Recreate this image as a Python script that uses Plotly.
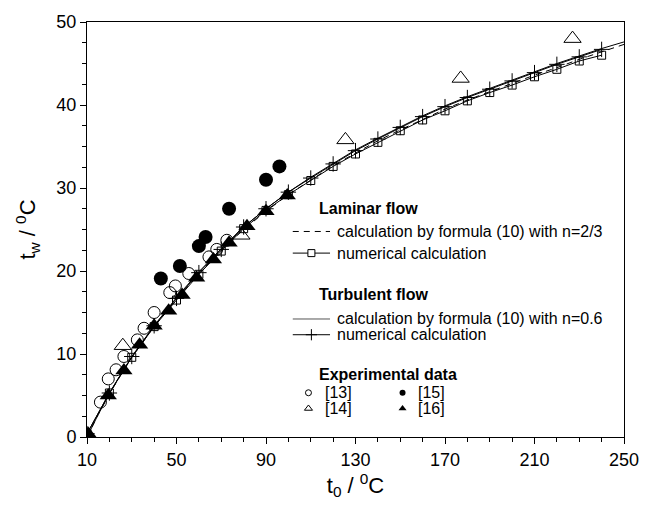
import plotly.graph_objects as go

# numerical calculation (every 10 degrees)
t0_num = [10, 20, 30, 40, 50, 60, 70, 80, 90, 100, 110, 120, 130, 140, 150, 160,
          170, 180, 190, 200, 210, 220, 230, 240]
tw_num_lam = [0.4, 5.3, 9.6, 13.3, 16.5, 19.6, 22.4, 25.1, 27.3, 29.2, 30.9, 32.6,
              34.1, 35.5, 36.9, 38.2, 39.3, 40.5, 41.5, 42.4, 43.4, 44.3, 45.3, 46.0]
tw_num_turb = [0.4, 5.3, 9.7, 13.4, 16.7, 19.8, 22.6, 25.3, 27.5, 29.5, 31.2, 32.9,
               34.5, 35.9, 37.3, 38.6, 39.8, 40.9, 41.9, 42.9, 43.9, 44.9, 45.8, 46.7]

# calculation by formula (10)
t0_formula = [10, 12, 15, 20, 25, 30, 40, 50, 60, 70, 80, 90, 100, 110, 120, 130,
              140, 150, 160, 170, 180, 190, 200, 210, 220, 230, 240, 250]
tw_formula_lam = [0.0, 1.1, 2.7, 5.2, 7.4, 9.6, 13.3, 16.6, 19.7, 22.5, 25.0, 27.2,
                  29.2, 31.0, 32.7, 34.2, 35.7, 37.0, 38.3, 39.5, 40.6, 41.6, 42.6,
                  43.6, 44.5, 45.5, 46.4, 47.3]
tw_formula_turb = [0.0, 1.1, 2.7, 5.2, 7.5, 9.6, 13.4, 16.8, 19.9, 22.7, 25.3, 27.5,
                   29.5, 31.3, 33.0, 34.6, 36.0, 37.4, 38.7, 39.9, 41.0, 42.0, 43.0,
                   44.0, 45.0, 45.9, 46.8, 47.6]

# experimental data
exp13_t0 = [16, 19.5, 23, 26.5, 32.5, 35.5, 40, 47, 49.5, 55.5, 64.5, 68, 72.5]
exp13_tw = [4.2, 7.0, 8.1, 9.7, 11.7, 13.1, 15.0, 17.4, 18.2, 19.7, 21.7, 22.6, 23.7]
exp14_t0 = [26, 79, 125.5, 177, 227]
exp14_tw = [11.0, 24.3, 35.8, 43.2, 48.0]
exp15_t0 = [43, 51.5, 60, 63, 73.5, 90, 96]
exp15_tw = [19.1, 20.6, 23.0, 24.1, 27.5, 31.0, 32.6]
exp16_t0 = [10.5, 19.5, 26.5, 33.5, 40, 46.5, 52.5, 59, 66.5, 73.5, 81.5, 90, 99.5]
exp16_tw = [0.4, 5.0, 8.0, 11.1, 13.4, 15.2, 17.1, 19.2, 21.4, 23.4, 25.4, 27.2, 29.1]

x_ticks = [10, 50, 90, 130, 170, 210, 250]

FONT = "Liberation Sans, Arial, sans-serif"
W, H = 651, 509
L, R, T, B = 87, 16, 15, 72
DASH = "6px,5px"

fig = go.Figure()

fig.add_trace(go.Scatter(x=t0_formula, y=tw_formula_lam, mode="lines",
                         line=dict(color="black", width=1, dash=DASH), hoverinfo="skip"))
fig.add_trace(go.Scatter(x=t0_formula, y=tw_formula_turb, mode="lines",
                         line=dict(color="black", width=1), hoverinfo="skip"))
fig.add_trace(go.Scatter(x=t0_num, y=tw_num_lam, mode="lines+markers",
                         line=dict(color="black", width=1),
                         marker=dict(symbol="square-open", size=8, color="black",
                                     line=dict(width=1))))
fig.add_trace(go.Scatter(x=t0_num, y=tw_num_turb, mode="lines+markers",
                         line=dict(color="black", width=1),
                         marker=dict(symbol="cross-thin-open", size=11, color="black",
                                     line=dict(width=1))))

fig.add_trace(go.Scatter(x=exp13_t0, y=exp13_tw, mode="markers",
                         marker=dict(symbol="circle-open", size=12, color="black",
                                     line=dict(width=1))))
fig.add_trace(go.Scatter(x=exp14_t0, y=exp14_tw, mode="markers",
                         marker=dict(symbol="triangle-up-open", size=15, color="black",
                                     line=dict(width=1))))
fig.add_trace(go.Scatter(x=exp15_t0, y=exp15_tw, mode="markers",
                         marker=dict(symbol="circle", size=14, color="black")))
fig.add_trace(go.Scatter(x=exp16_t0, y=exp16_tw, mode="markers",
                         marker=dict(symbol="triangle-up", size=15, color="black")))


# legend, drawn on an overlay axis measured in pixels of the page
def px_trace(xs, ys, **kw):
    fig.add_trace(go.Scatter(x=xs, y=ys, xaxis="x2", yaxis="y2", hoverinfo="skip", **kw))


lx0, lx1, lxm = 297, 335, 316
px_trace([lx0, lx1], [228, 228], mode="lines", line=dict(color="black", width=1, dash=DASH))
px_trace([lx0, lx1], [250, 250], mode="lines", line=dict(color="black", width=1))
px_trace([lxm], [250], mode="markers",
         marker=dict(symbol="square", size=7, color="white", line=dict(color="black", width=1)))
px_trace([lx0, lx1], [317, 317], mode="lines", line=dict(color="#555", width=1))
px_trace([lx0, lx1], [333, 333], mode="lines", line=dict(color="black", width=1))
px_trace([lxm], [333], mode="markers",
         marker=dict(symbol="cross-thin-open", size=8, color="black", line=dict(width=1)))
px_trace([313], [392], mode="markers",
         marker=dict(symbol="circle-open", size=6, color="black", line=dict(width=1)))
px_trace([313], [408], mode="markers",
         marker=dict(symbol="triangle-up-open", size=7, color="black", line=dict(width=1)))
px_trace([409], [392], mode="markers", marker=dict(symbol="circle", size=6, color="black"))
px_trace([409], [408], mode="markers", marker=dict(symbol="triangle-up", size=7, color="black"))

labels = [
    (322, 205, "<b>Laminar flow</b>"),
    (340, 228, "calculation by formula (10) with n=2/3"),
    (340, 250, "numerical calculation"),
    (322, 292, "<b>Turbulent flow</b>"),
    (340, 317, "calculation by formula (10) with n=0.6"),
    (340, 333, "numerical calculation"),
    (322, 373, "<b>Experimental data</b>"),
    (328, 392, "[13]"),
    (328, 408, "[14]"),
    (423, 392, "[15]"),
    (423, 408, "[16]"),
]
annotations = [dict(x=x, y=y, xref="x2", yref="y2", text=t, showarrow=False,
                    xanchor="left", yanchor="middle",
                    font=dict(family=FONT, size=16, color="black")) for x, y, t in labels]

fig.update_layout(
    width=W, height=H,
    margin=dict(l=L, r=R, t=T, b=B),
    paper_bgcolor="white", plot_bgcolor="white",
    showlegend=False,
    font=dict(family=FONT, size=18, color="black"),
    xaxis=dict(range=[10, 250], tickvals=x_ticks, ticks="outside", ticklen=6,
               tickwidth=1, tickcolor="black", showline=True, linecolor="black",
               linewidth=1, mirror=True, showgrid=False, zeroline=False,
               minor=dict(dtick=10, tick0=10, ticks="outside", ticklen=4,
                          tickcolor="black", showgrid=False),
               title=dict(text="t<sub>0</sub> / <sup>0</sup>C", font=dict(size=22),
                          standoff=8)),
    yaxis=dict(range=[0, 50], dtick=10, ticks="outside", ticklen=6,
               tickwidth=1, tickcolor="black", showline=True, linecolor="black",
               linewidth=1, mirror=True, showgrid=False, zeroline=False,
               minor=dict(dtick=2.5, ticks="outside", ticklen=4,
                          tickcolor="black", showgrid=False),
               title=dict(text="t<sub>w</sub> / <sup>0</sup>C", font=dict(size=22),
                          standoff=14)),
    xaxis2=dict(overlaying="x", range=[L, W - R], visible=False, fixedrange=True),
    yaxis2=dict(overlaying="y", range=[H - B, T], visible=False, fixedrange=True),
    annotations=annotations,
)

# the page is photographed at the figure's own size: drop the default body margin
fig.write_html("out.html", config={"displayModeBar": False},
               post_script="document.body.style.margin = '0';")
